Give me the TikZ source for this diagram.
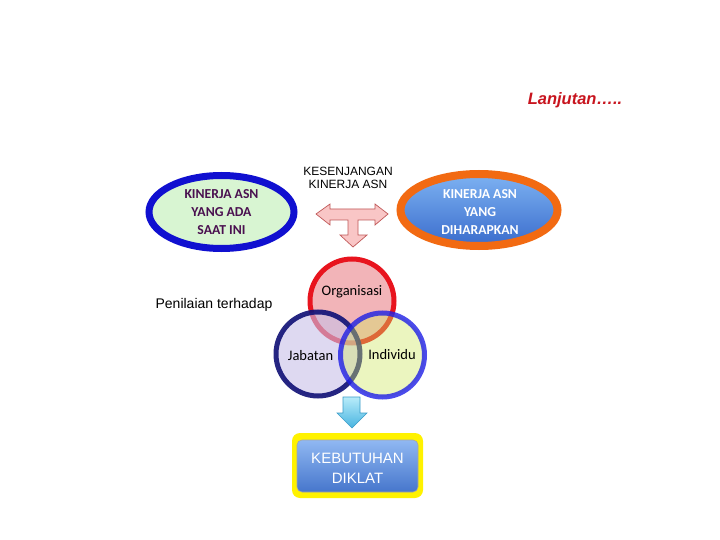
\documentclass[tikz,border=0pt]{standalone}
\usepackage{fontspec}
\setmainfont{Liberation Sans}
\newfontfamily\calfont{Carlito}
\usetikzlibrary{shapes.geometric}
\definecolor{lblue}{HTML}{1010D0}
\definecolor{lgreen}{HTML}{D8F5D2}
\definecolor{ltxt}{HTML}{4A1050}
\definecolor{orng}{HTML}{F26A12}
\definecolor{btop}{HTML}{7DB2F2}
\definecolor{bbot}{HTML}{3A6CCC}
\definecolor{tpink}{HTML}{F9C6C6}
\definecolor{tline}{HTML}{C05858}
\definecolor{orgred}{HTML}{E8141E}
\definecolor{orgfill}{HTML}{F2B4B8}
\definecolor{jabline}{HTML}{141478}
\definecolor{jabfill}{HTML}{C8C0E8}
\definecolor{indline}{HTML}{1E1EE6}
\definecolor{indfill}{HTML}{CFE660}
\definecolor{cytop}{HTML}{B8ECFA}
\definecolor{cybot}{HTML}{48B4E0}
\definecolor{cyline}{HTML}{3A9CC8}
\definecolor{ktop}{HTML}{90B8F2}
\definecolor{kbot}{HTML}{4676CC}
\definecolor{lanred}{HTML}{C8141E}
\tikzset{
  venn/.style={circle, minimum size=84pt, line width=5pt, inner sep=0pt},
  ctext/.style={font=\calfont\fontsize{14.5}{16}\selectfont, inner sep=0pt},
  etext/.style={font=\calfont\bfseries\fontsize{13.7}{18}\selectfont, align=center, inner sep=0pt},
  atext/.style={inner sep=0pt, align=center}
}
\begin{document}
\begin{tikzpicture}[x=1pt,y=-1pt]
\fill[white] (0,0) rectangle (720,540);
\useasboundingbox (0,0) rectangle (720,540);

% title
\node (lanj) [atext, text=lanred, font=\bfseries\itshape\fontsize{16.5}{18}\selectfont] at (575,100) {Lanjutan…..};

% left ellipse
\node (left) [ellipse, draw=lblue, fill=lgreen, line width=7pt, minimum width=145pt, minimum height=73pt, inner sep=0pt] at (221.5,212) {};
\node (lefttxt) [etext, text=ltxt] at (221.5,212.5) {KINERJA ASN\\YANG ADA\\SAAT INI};

% right ellipse
\node (right) [ellipse, draw=orng, top color=btop, bottom color=bbot, line width=8pt, minimum width=157pt, minimum height=72pt, inner sep=0pt] at (479,210) {};
\node (righttxt) [etext, text=white] at (480,212.5) {KINERJA ASN\\YANG\\DIHARAPKAN};

% gap label
\node (gap) [atext, font=\fontsize{12}{13.5}\selectfont] at (348,178) {KESENJANGAN\\KINERJA ASN};

% T arrow
\draw[fill=tpink, draw=tline, line width=0.7pt, line join=miter]
  (316,214) -- (330,204) -- (330,209) -- (375,209) -- (375,204) -- (388,214)
  -- (375,225) -- (375,220) -- (358,220) -- (358,235) -- (367,235) -- (353,247)
  -- (340,235) -- (348,235) -- (348,220) -- (330,220) -- (330,225) -- cycle;

% Penilaian
\node (pen) [atext, font=\fontsize{14}{16}\selectfont] at (214,305) {Penilaian terhadap};

% Venn circles
\node (org) [venn, draw=orgred, fill=orgfill] at (352,301) {};
\node (jab) [venn, draw=jabline, fill=jabfill, fill opacity=0.6, draw opacity=0.92] at (318,354) {};
\node (ind) [venn, draw=indline, fill=indfill, fill opacity=0.4, draw opacity=0.8] at (382.5,355) {};
\node (orgt) [ctext] at (352,292) {Organisasi};
\node (jabt) [ctext] at (310.5,356) {Jabatan};
\node (indt) [ctext] at (392,355) {Individu};

% down arrow
\shade[top color=cytop, bottom color=cybot, draw=cyline, line width=0.6pt]
  (343,397) -- (360,397) -- (360,413) -- (367,413) -- (352,428) -- (337,413) -- (343,413) -- cycle;

% KEBUTUHAN DIKLAT
\node (kbo) [rounded corners=8pt, fill=yellow, minimum width=131pt, minimum height=65pt, inner sep=0pt] at (357.5,465.5) {};
\node (kbi) [rounded corners=5pt, top color=ktop, bottom color=kbot, draw=gray!70, line width=0.6pt, minimum width=121pt, minimum height=52pt, inner sep=0pt] at (357.5,466) {};
\node (kbt) [atext, text=white, font=\fontsize{15}{20}\selectfont] at (357.5,468) {KEBUTUHAN\\DIKLAT};
\end{tikzpicture}
\end{document}
